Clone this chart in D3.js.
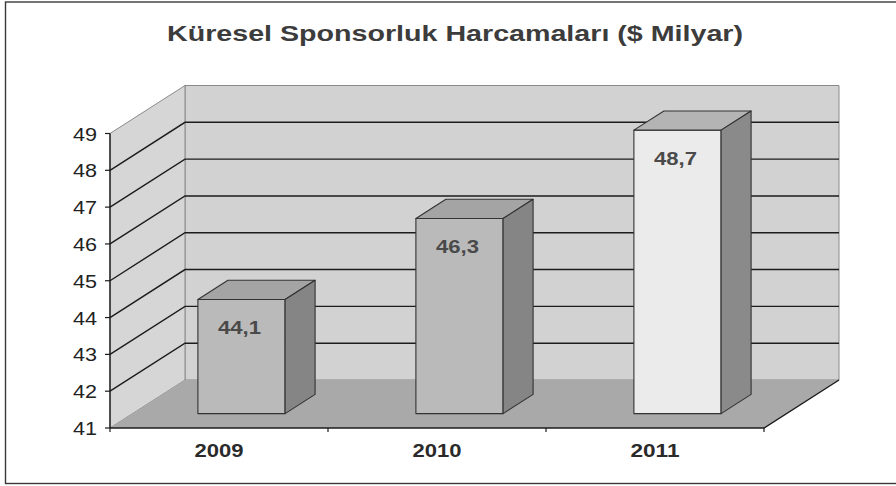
<!DOCTYPE html>
<html>
<head>
<meta charset="utf-8">
<script src="https://cdn.jsdelivr.net/npm/d3@7"></script>
<style>
  html, body { margin: 0; padding: 0; background: #fff; }
  svg { display: block; font-family: "Liberation Sans", Arial, sans-serif; }
</style>
</head>
<body>
<svg id="chart" width="896" height="486"></svg>
<script>
// Chart data
const title = "Küresel Sponsorluk Harcamaları ($ Milyar)";
const years = ["2009", "2010", "2011"];
const values = [44.1, 46.3, 48.7];
const valueLabels = ["44,1", "46,3", "48,7"];
const yTicks = [41, 42, 43, 44, 45, 46, 47, 48, 49];

// Layout of the 3D box
const W = 896, H = 486;
const front = { left: 110, right: 764, bottom: 428, top: 133.5 };
const depth = { dx: 75, dy: -48 };       // wall depth offset
const barDepth = [0.3, 0.7];             // bar position inside the depth

// Shades: [front, top, side]
const barShades = [
  ["#bababa", "#a4a4a4", "#858585"],
  ["#bababa", "#a4a4a4", "#858585"],
  ["#ebebeb", "#b4b4b4", "#8a8a8a"]
];

const svg = d3.select("#chart");

const x = d3.scaleBand().domain(years).range([front.left, front.right]).padding(0);
const y = d3.scaleLinear().domain([41, 49]).range([front.bottom, front.top]);

// project a point on the front plane back by a depth fraction f
const P = (px, py, f) => [px + f * depth.dx, py + f * depth.dy];
const poly = pts => pts.map(p => p.join(",")).join(" ");

// Outer frame
svg.append("rect")
  .attr("x", 5.5).attr("y", 2).attr("width", 910).attr("height", 481.5)
  .attr("fill", "#fff").attr("stroke", "#3a3a3a").attr("stroke-width", 1.4);

// Title
svg.append("text")
  .attr("x", 455).attr("y", 41)
  .attr("text-anchor", "middle")
  .attr("font-size", 22).attr("font-weight", "bold")
  .attr("fill", "#3c3c3c")
  .attr("textLength", 576).attr("lengthAdjust", "spacingAndGlyphs")
  .text(title);

const y0 = y(41), y1 = y(49);
const L = front.left, R = front.right;

// Back wall
svg.append("polygon")
  .attr("points", poly([P(L, y1, 1), P(R, y1, 1), P(R, y0, 1), P(L, y0, 1)]))
  .attr("fill", "#d2d2d2").attr("stroke", "#8a8a8a").attr("stroke-width", 1);

// Side wall
svg.append("polygon")
  .attr("points", poly([[L, y1], P(L, y1, 1), P(L, y0, 1), [L, y0]]))
  .attr("fill", "#d6d6d6").attr("stroke", "#8a8a8a").attr("stroke-width", 1);

// Floor
svg.append("polygon")
  .attr("points", poly([[L, y0], [R, y0], P(R, y0, 1), P(L, y0, 1)]))
  .attr("fill", "#a9a9a9").attr("stroke", "none");

// Gridlines on side and back walls
svg.append("g").selectAll("polyline")
  .data(yTicks.filter(v => v > 41 && v < 49))
  .join("polyline")
  .attr("points", v => poly([[L, y(v)], P(L, y(v), 1), P(R, y(v), 1)]))
  .attr("fill", "none").attr("stroke", "#1c1c1c").attr("stroke-width", 1.4);

// Floor front edges
svg.append("polyline")
  .attr("points", poly([[L, y0], [R, y0], P(R, y0, 1)]))
  .attr("fill", "none").attr("stroke", "#1c1c1c").attr("stroke-width", 1.4);

// Y axis
svg.append("line")
  .attr("x1", L).attr("x2", L).attr("y1", y1).attr("y2", y0)
  .attr("stroke", "#1c1c1c").attr("stroke-width", 1.4);
const yAxis = svg.append("g");
yAxis.selectAll("line").data(yTicks).join("line")
  .attr("x1", L - 5).attr("x2", L).attr("y1", d => y(d)).attr("y2", d => y(d))
  .attr("stroke", "#1c1c1c").attr("stroke-width", 1.2);
yAxis.selectAll("text").data(yTicks).join("text")
  .attr("x", 97).attr("y", d => y(d) + 7)
  .attr("text-anchor", "end")
  .attr("font-size", 19).attr("fill", "#222")
  .attr("textLength", 24).attr("lengthAdjust", "spacingAndGlyphs")
  .text(d => d);

// X axis ticks and category labels
const xAxis = svg.append("g");
const bounds = years.map(d => x(d)).concat([R]);
xAxis.selectAll("line").data(bounds).join("line")
  .attr("x1", d => d).attr("x2", d => d).attr("y1", y0).attr("y2", y0 + 4)
  .attr("stroke", "#1c1c1c").attr("stroke-width", 1.2);
xAxis.selectAll("text").data(years).join("text")
  .attr("x", d => x(d) + x.bandwidth() / 2).attr("y", 457)
  .attr("text-anchor", "middle")
  .attr("font-size", 18).attr("font-weight", "bold").attr("fill", "#2a2a2a")
  .attr("textLength", 49).attr("lengthAdjust", "spacingAndGlyphs")
  .text(d => d);

// 3D bars
const barW = x.bandwidth() / 2.5;
const bars = svg.append("g").selectAll("g")
  .data(years.map((d, i) => ({ year: d, value: values[i], label: valueLabels[i], shade: barShades[i] })))
  .join("g");

bars.each(function(d) {
  const g = d3.select(this);
  const bl = x(d.year) + (x.bandwidth() - barW) / 2;
  const br = bl + barW;
  const yt = y(d.value), yb = y(41);
  const [f0, f1] = barDepth;
  // front face
  g.append("polygon")
    .attr("points", poly([P(bl, yt, f0), P(br, yt, f0), P(br, yb, f0), P(bl, yb, f0)]))
    .attr("fill", d.shade[0]).attr("stroke", "#333").attr("stroke-width", 1.1).attr("stroke-linejoin", "round");
  // top face
  g.append("polygon")
    .attr("points", poly([P(bl, yt, f0), P(br, yt, f0), P(br, yt, f1), P(bl, yt, f1)]))
    .attr("fill", d.shade[1]).attr("stroke", "#333").attr("stroke-width", 1.1).attr("stroke-linejoin", "round");
  // side face
  g.append("polygon")
    .attr("points", poly([P(br, yt, f0), P(br, yt, f1), P(br, yb, f1), P(br, yb, f0)]))
    .attr("fill", d.shade[2]).attr("stroke", "#333").attr("stroke-width", 1.1).attr("stroke-linejoin", "round");
  // value label
  const [cx, cy] = P((bl + br) / 2, yt, f0);
  g.append("text")
    .attr("x", cx - 2).attr("y", cy + 35)
    .attr("text-anchor", "middle")
    .attr("font-size", 18).attr("font-weight", "bold").attr("fill", "#4a4a4a")
    .attr("textLength", 43).attr("lengthAdjust", "spacingAndGlyphs")
    .text(d.label);
});
</script>
</body>
</html>
